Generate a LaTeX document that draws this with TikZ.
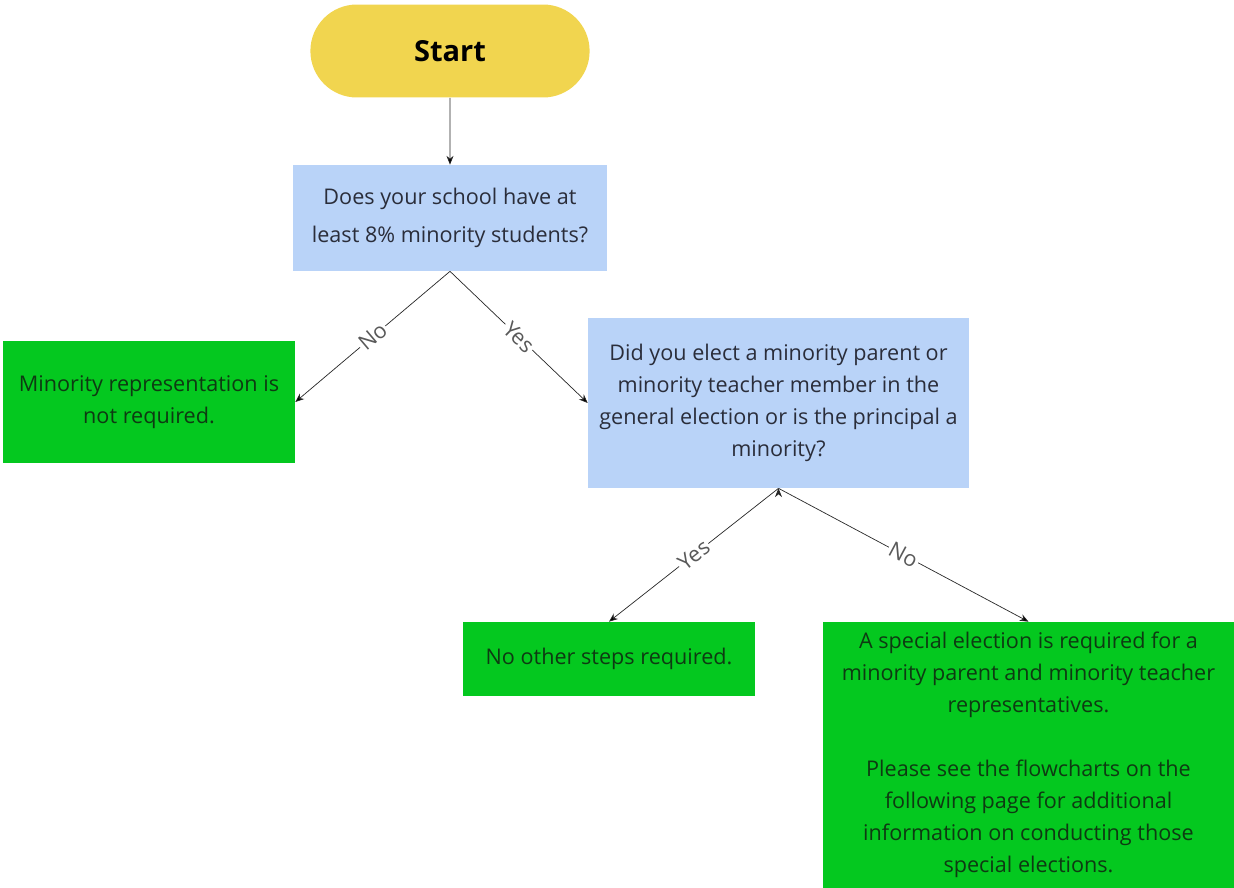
\documentclass[tikz,border=0pt]{standalone}
\usepackage{fontspec}
\setmainfont{Open Sans}
\usepackage{xcolor}
\usetikzlibrary{arrows.meta,positioning,shapes.misc}

\definecolor{startyellow}{HTML}{F1D54F}
\definecolor{askblue}{HTML}{B9D3F8}
\definecolor{endgreen}{HTML}{04C81F}
\definecolor{asktext}{HTML}{2A2D3A}
\definecolor{endtext}{HTML}{0E3A12}

\begin{document}
\begin{tikzpicture}[x=0.02cm, y=-0.02cm,
    every node/.style={font=\fontsize{12.3}{18.3}\selectfont, align=center},
    startbox/.style={rounded rectangle, fill=startyellow, minimum width=5.82cm, minimum height=1.86cm, font=\fontsize{16.5}{18}\selectfont\bfseries},
    askbox/.style={rectangle, fill=askblue, text=asktext},
    endbox/.style={rectangle, fill=endgreen, text=endtext},
    answer/.style={midway, sloped, fill=white, inner sep=1pt, text=black!65}]

    \useasboundingbox (0,0) rectangle (1234,888);

    % Boxes
    \node[startbox] (start) at (450,51) {Start};
    \node[askbox, minimum width=6.28cm, minimum height=2.12cm, font=\fontsize{12.3}{21.5}\selectfont] (q1) at (450,218)
        {Does your school have at\\least 8\% minority students?};
    \node[endbox, minimum width=5.84cm, minimum height=2.46cm] (notreq) at (149,402)
        {Minority representation is\\not required.};
    \node[askbox, minimum width=7.62cm, minimum height=3.4cm] (q2) at (778.5,403)
        {Did you elect a minority parent or\\minority teacher member in the\\general election or is the principal a\\minority?};
    \node[endbox, minimum width=5.84cm, minimum height=1.48cm] (nosteps) at (609,659)
        {No other steps required.};
    \node[endbox, minimum width=8.22cm, minimum height=5.32cm] (special) at (1028.5,755)
        {A special election is required for a\\minority parent and minority teacher\\representatives.\\[18pt]Please see the flowcharts on the\\following page for additional\\information on conducting those\\special elections.};

    % Arrows
    \path[->, >={Stealth[length=5pt,width=4pt]}, thin, draw=black!85]
        (start) edge (q1)
        (q1.south) edge node[answer] {No} (notreq.east)
        (q1.south) edge node[answer] {Yes} (q2.west)
        (q2.south) edge node[answer] {Yes} (nosteps.north)
        (q2.south) edge node[answer] {No} (special.north);

\end{tikzpicture}
\end{document}
